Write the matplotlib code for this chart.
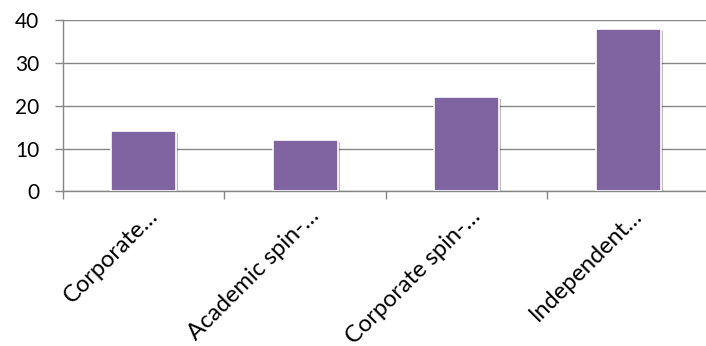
import numpy as np
import matplotlib.pyplot as plt
import matplotlib.patheffects as pe
from matplotlib.transforms import ScaledTranslation

categories = ['Corporate…', 'Academic spin-…', 'Corporate spin-…', 'Independent…']
values = [14, 12, 22, 38]
yticks = [0, 10, 20, 30, 40]

bar_color = '#8064A2'
grid_color = '#868686'

plt.rcParams['font.family'] = ['Lato', 'DejaVu Sans']

fig = plt.figure(figsize=(7.06, 3.46), dpi=100)
ax = fig.add_axes([0.0892, 0.447, 0.915, 0.495])

x = np.arange(len(categories))
bars = ax.bar(x, values, width=0.4, color=bar_color, edgecolor='white',
              linewidth=1.2, zorder=3)
for b in bars:
    b.set_path_effects([pe.SimplePatchShadow(offset=(1.5, -1.5), alpha=0.3),
                        pe.Normal()])

ax.set_xlim(-0.5, len(categories) - 0.5)
ax.set_ylim(0, 40)
ax.set_yticks(yticks)
ax.yaxis.grid(True, color=grid_color, linewidth=1.0, zorder=0)
ax.set_axisbelow(True)

for s in ['top', 'right']:
    ax.spines[s].set_visible(False)
for s in ['left', 'bottom']:
    ax.spines[s].set_color(grid_color)
    ax.spines[s].set_linewidth(1.0)

# category separators as minor ticks, labels on the major ticks
ax.set_xticks(np.arange(-0.5, len(categories)), minor=True)
ax.set_xticks(x)
ax.set_xticklabels(categories, rotation=45, ha='right', fontsize=17)
ax.tick_params(axis='x', which='major', length=0, pad=10)
ax.tick_params(axis='x', which='minor', length=6, width=1.0, color=grid_color)
ax.tick_params(axis='y', length=6, width=1.0, color=grid_color,
               labelsize=15, pad=11)

shift = ScaledTranslation(18 / 100, 0, fig.dpi_scale_trans)
for lab in ax.get_xticklabels():
    lab.set_transform(lab.get_transform() + shift)

fig.savefig('out.png', dpi=100)
